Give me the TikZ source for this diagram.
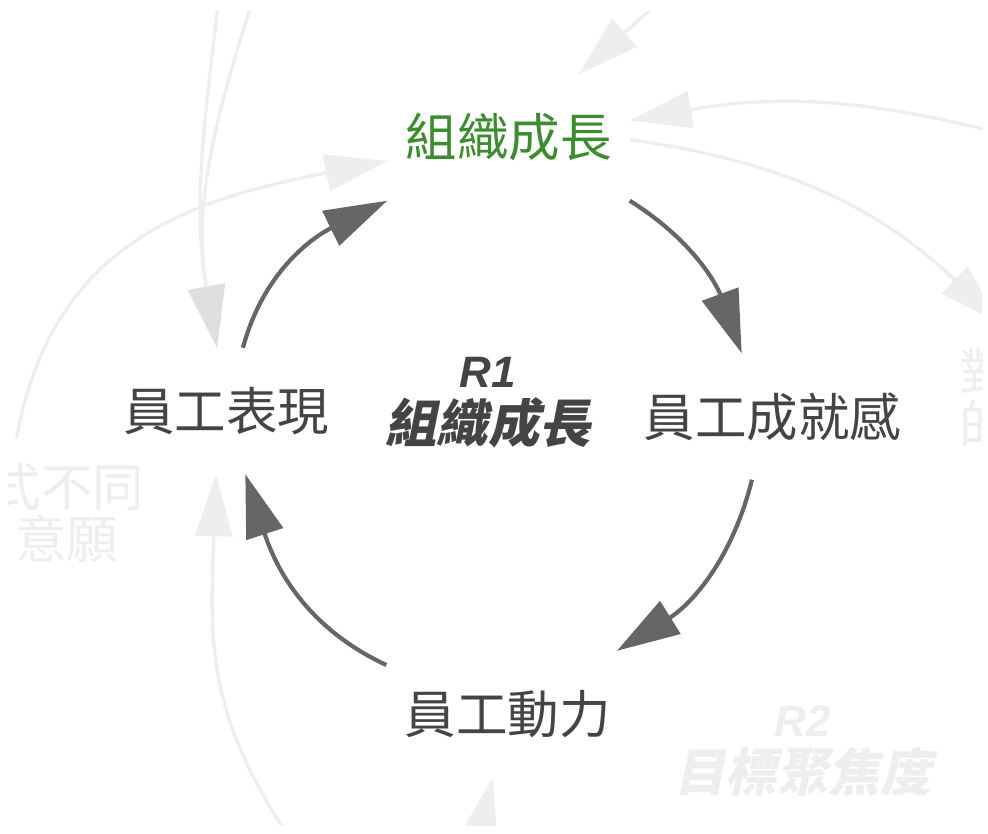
\documentclass[tikz,border=0pt]{standalone}
\usepackage{fontspec}
\usepackage{xcolor}
\usetikzlibrary{arrows.meta}
\newfontfamily\cjk{Noto Sans CJK TC}
\newfontfamily\cjkslant{Noto Sans CJK TC}[FakeSlant=0.2]
\newfontfamily\latsans{Liberation Sans}
\definecolor{growthgreen}{RGB}{62,140,48}
\definecolor{textgray}{RGB}{68,68,68}
\definecolor{arrowgray}{RGB}{102,102,102}
\definecolor{faintgray}{RGB}{238,238,238}
\definecolor{faintdark}{RGB}{223,223,223}

\begin{document}
\begin{tikzpicture}[x=1pt,y=1pt,
  loopvar/.style={font=\cjk\fontsize{51.5}{52}\selectfont, text=textgray, minimum height=126pt, inner xsep=18pt},
  faintvar/.style={font=\cjk\fontsize{51.5}{52}\selectfont, text=faintgray, inner ysep=25pt, inner xsep=3pt, align=center},
  looplabel/.style={font=\cjkslant\bfseries\fontsize{51.5}{55}\selectfont, align=center, inner sep=0pt},
  loop arrow/.style={draw=arrowgray, line width=4.2pt, -{Triangle[length=63pt,width=38pt]}},
  faint arrow/.style={draw=faintgray, line width=3.3pt, -{Triangle[length=62pt,width=37pt]}}]
\useasboundingbox (0,0) rectangle (988,834);
\clip (8,8) rectangle (982,822);

\node [loopvar, text=growthgreen] (growth) at (508.5,696.5) {組織成長}; % top
\node [loopvar] (perf) at (226,423) {員工表現};   % left
\node [loopvar] (ach) at (772.5,417.5) {員工成就感}; % right
\node [loopvar] (mot) at (507.5,120) {員工動力};   % bottom
\node [looplabel, text=textgray] (r1) at (488,431) {{\latsans\bfseries\itshape\fontsize{44}{55}\selectfont R1}\\組織成長};
\node [looplabel, text=faintgray] (r2) at (803,82.5) {{\latsans\bfseries\itshape\fontsize{44}{55}\selectfont R2}\\目標聚焦度};
\node [faintvar] (will) at (67,320.5) {式不同\\意願};
\node [faintvar, anchor=north west, text width=80pt, align=left, inner xsep=2pt] (toward) at (957,511) {對\\的};

\coordinate (top1) at (220,844);
\coordinate (top2) at (256,844);
\coordinate (topright) at (674,846);
\coordinate (right1) at (1010,698);
\coordinate (bottom1) at (298,-16);
\coordinate (bottom2) at (478,-26);

% other loops, faded
\draw [faint arrow, -{Triangle[length=62pt,width=37pt,color=faintdark]}] (top1) to[out=-97,in=100] (perf.98);
\draw [faint arrow, -{Triangle[length=62pt,width=37pt,color=faintdark]}] (top2) to[out=-108,in=100] (perf.98);
\draw [faint arrow] (will.124) to[out=80,in=191,looseness=1.1] (growth.191);
\draw [faint arrow] (bottom1) to[out=125,in=268,looseness=1.1] (perf.261);
\draw [faint arrow] (bottom2) to[out=75,in=257] (mot.257);
\draw [faint arrow] (topright) -- (growth.42);
\draw [faint arrow] (right1) to[out=165,in=10] (growth.8);
\draw [faint arrow] (growth.-1) to[out=-8,in=136] (toward.north);

% R1 loop
\draw [loop arrow] (perf.75) to[out=75,in=206] (growth.south west);
\draw [loop arrow] (growth.south east) to[out=-32,in=110] (ach.116);
\draw [loop arrow] (ach.252) to[out=-104,in=32] (mot.30);
\draw [loop arrow] (mot.158) to[out=155,in=288] (perf.287);

\end{tikzpicture}
\end{document}
